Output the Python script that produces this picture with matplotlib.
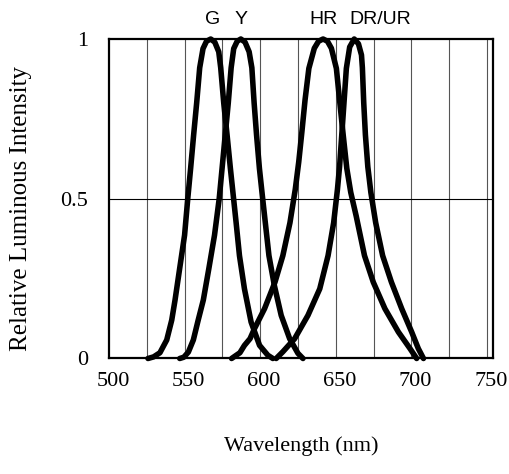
import numpy as np
import matplotlib.pyplot as plt
import matplotlib.transforms as mtransforms

# wavelength (nm) / relative intensity
g_wl = [525.8, 529.5, 533.7, 538.2, 541.5, 543.7, 546.7, 550, 552.1, 554.0, 556.0, 558.0, 560, 562.2,
        564.5, 567.3, 570, 572.6, 573.9, 575.9, 578.1, 580.3, 582.2, 584.1, 586.3, 589.6, 594,
        599.6, 605.1, 608.4]
g_int = [0, 0.005, 0.018, 0.058, 0.12, 0.183, 0.28, 0.386, 0.5, 0.595, 0.70, 0.80, 0.91, 0.97,
         0.993, 1.0, 0.99, 0.96, 0.91, 0.80, 0.70, 0.595, 0.51, 0.425, 0.322, 0.218, 0.114,
         0.041, 0.01, 0]

y_wl = [546.8, 549.5, 552.5, 555.8, 559, 562.4, 566.0, 569.8, 572.9, 574.8, 576.9, 578.9, 580.8,
        582.5, 584.8, 587.2, 590, 592.7, 594.5, 596, 597.6, 599.5, 601.2, 603.4, 605.8, 609.4,
        613.9, 619.5, 625, 628.3]
y_int = [0, 0.004, 0.02, 0.058, 0.12, 0.183, 0.28, 0.386, 0.5, 0.595, 0.70, 0.80, 0.91,
         0.97, 0.993, 1.0, 0.99, 0.96, 0.91, 0.80, 0.70, 0.595, 0.52, 0.425, 0.322, 0.228,
         0.135, 0.062, 0.016, 0]

hr_wl = [581.1, 586.6, 589.6, 593.3, 596.2, 602.9, 609.8, 615.0, 619.7, 623.2, 625.5, 627.6, 629.7,
         632.2, 635.8, 638.6, 641.6, 644.5, 647.1, 650.4, 652.7, 654.9, 657.3, 659.9, 663.5,
         669.0, 674.8, 682.5, 691.4, 699.1, 703.5]
hr_int = [0, 0.018, 0.041, 0.062, 0.093, 0.156, 0.239, 0.322, 0.425, 0.529, 0.615, 0.71, 0.81,
          0.908, 0.971, 0.993, 1.0, 0.993, 0.971, 0.908, 0.80, 0.70, 0.595, 0.52, 0.446,
          0.322, 0.239, 0.156, 0.083, 0.031, 0]

dr_wl = [610.6, 615, 622.8, 631.6, 639.4, 644.9, 648.6, 651.1, 652.5, 654.7, 657.0, 659.2, 662.2,
         665, 667, 667.6, 668.5, 669.6, 671.2, 673.2, 676.4, 681.0, 686.8, 693.6, 700.2, 704.6, 708]
dr_int = [0, 0.021, 0.062, 0.135, 0.218, 0.322, 0.425, 0.529, 0.60, 0.75, 0.908, 0.975, 1.0,
          0.985, 0.95, 0.91, 0.80, 0.70, 0.60, 0.52, 0.425, 0.322, 0.239, 0.156, 0.083,
          0.031, 0]

curve_labels = ['G', 'Y', 'HR', 'DR/UR']
label_x = [568.6, 587.5, 642, 679.7]

x_ticks = [500, 550, 600, 650, 700, 750]
y_ticks = [0, 0.5, 1]
y_ticklabels = ['0', '0.5', '1']

serif = 'Liberation Serif'
sans = 'Liberation Sans'

fig = plt.figure(figsize=(5.09, 4.74), dpi=100)
ax = fig.add_axes([0.2141, 0.2437, 0.9686 - 0.2141, 0.9177 - 0.2437])

# grid
for xv in np.arange(525, 751, 25):
    ax.axvline(xv, color='#555555', lw=0.8, zorder=1)
ax.axhline(0.5, color='black', lw=0.8, zorder=1)

for wl, inten in [(g_wl, g_int), (y_wl, y_int), (hr_wl, hr_int), (dr_wl, dr_int)]:
    ax.plot(wl, inten, color='black', lw=4.0, solid_joinstyle='round',
            solid_capstyle='round', zorder=3, clip_on=False)

for lab, lx in zip(curve_labels, label_x):
    ax.text(lx, 1.06, lab, ha='center', va='center', fontsize=14, family=sans)

ax.set_xlim(500, 754)
ax.set_ylim(0, 1)
ax.set_xticks(x_ticks)
ax.set_xticklabels([str(t) for t in x_ticks], fontsize=16, family=serif)
ax.set_yticks(y_ticks)
ax.set_yticklabels(y_ticklabels, fontsize=16, family=serif)
ax.tick_params(axis='both', length=0)
ax.tick_params(axis='x', pad=10)
ax.tick_params(axis='y', pad=15)

# labels sit a few pixels right of their gridlines in the original
shift = mtransforms.ScaledTranslation(0.04, 0, fig.dpi_scale_trans)
for lbl in ax.get_xticklabels():
    lbl.set_transform(lbl.get_transform() + shift)

for s in ax.spines.values():
    s.set_linewidth(1.6)
    s.set_zorder(4)

ax.set_xlabel('Wavelength (nm)', fontsize=16, family=serif, labelpad=32)
ax.set_ylabel('Relative Luminous Intensity', fontsize=18, family=serif)
ax.yaxis.set_label_coords(-0.2005, 0.4695)

fig.savefig('out.png', dpi=100)
